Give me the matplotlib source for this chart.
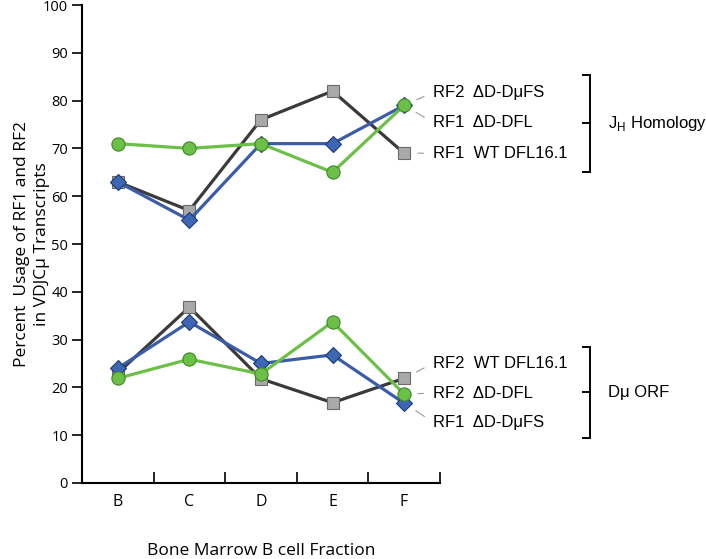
import matplotlib
matplotlib.use("Agg")
import matplotlib.pyplot as plt

plt.rcParams['font.family'] = ['Open Sans', 'DejaVu Sans']
plt.rcParams['mathtext.fontset'] = 'custom'
plt.rcParams['mathtext.rm'] = 'Liberation Sans'

fractions = ["B", "C", "D", "E", "F"]

# J_H homology group
rf1_wt_dfl = [63, 57, 76, 82, 69]
rf1_dd_dfl = [63, 55, 71, 71, 79]
rf2_dd_dmfs = [71, 70, 71, 65, 79]

# D mu ORF group
rf2_wt_dfl = [23, 36.8, 21.8, 16.8, 21.9]
rf1_dd_dmfs = [24, 33.7, 25, 26.8, 16.7]
rf2_dd_dfl = [21.9, 25.9, 22.8, 33.7, 18.6]

group_names = [r"J$_\mathrm{H}$ Homology", "D\u03bc ORF"]
group_spans = [(65.1, 85.4), (9.4, 28.5)]

gray_style = dict(color='#3a3a3a', marker='s', markersize=8.5, markerfacecolor='#a9a9a9',
                  markeredgecolor='#6a6a6a', markeredgewidth=0.8, lw=2.3)
blue_style = dict(color='#3b5ca8', marker='D', markersize=8, markerfacecolor='#3d67b3',
                  markeredgecolor='#1f3a78', markeredgewidth=0.8, lw=2.3)
green_style = dict(color='#6cbf47', marker='o', markersize=9.5, markerfacecolor='#6cbf47',
                   markeredgecolor='#3d8a2a', markeredgewidth=0.8, lw=2.3)

fig = plt.figure(figsize=(7.06, 5.59), dpi=100)
ax = fig.add_axes([0.1161, 0.136, 0.507, 0.855])

x = list(range(1, len(fractions) + 1))

ax.plot(x, rf1_wt_dfl, zorder=3, **gray_style)
ax.plot(x, rf1_dd_dfl, zorder=4, **blue_style)
ax.plot(x, rf2_dd_dmfs, zorder=5, **green_style)

ax.plot(x, rf2_wt_dfl, zorder=3, **gray_style)
ax.plot(x, rf1_dd_dmfs, zorder=4, **blue_style)
ax.plot(x, rf2_dd_dfl, zorder=5, **green_style)

ax.set_xlim(0.5, 5.5)
ax.set_ylim(0, 100)
ax.spines['top'].set_visible(False)
ax.spines['right'].set_visible(False)
for s in ['left', 'bottom']:
    ax.spines[s].set_linewidth(1.5)

ax.set_yticks(range(0, 101, 10))
ax.tick_params(axis='y', direction='out', length=7, width=1.2, labelsize=10.5, pad=3)
ax.set_xticks(x)
ax.set_xticklabels(fractions, fontsize=11.5)
ax.tick_params(axis='x', which='major', length=0, pad=8)
ax.set_xticks([1.5, 2.5, 3.5, 4.5, 5.5], minor=True)
ax.tick_params(axis='x', which='minor', direction='in', length=8, width=1.2)

ax.set_xlabel("Bone Marrow B cell Fraction", fontsize=12.5, labelpad=24)
ax.set_ylabel("Percent  Usage of RF1 and RF2\nin VDJC\u03bc Transcripts", fontsize=12.5,
              labelpad=-5, linespacing=1.3)

# series labels at the F end
labels = [
    (rf2_dd_dmfs[-1], "RF2  \u0394D-D\u03bcFS", 13),
    (rf1_dd_dfl[-1], "RF1  \u0394D-DFL", -17),
    (rf1_wt_dfl[-1], "RF1  WT DFL16.1", 0),
    (rf2_wt_dfl[-1], "RF2  WT DFL16.1", 15),
    (rf2_dd_dfl[-1], "RF2  \u0394D-DFL", 1),
    (rf1_dd_dmfs[-1], "RF1  \u0394D-D\u03bcFS", -19),
]
for val, txt, dy in labels:
    ax.annotate(txt, xy=(5, val), xytext=(29, dy), textcoords='offset pixels',
                ha='left', va='center', fontsize=12, family='Liberation Sans',
                annotation_clip=False,
                arrowprops=dict(arrowstyle='-', color='#9a9a9a', lw=0.8,
                                shrinkA=5, shrinkB=10, relpos=(0, 0.5)))

# group brackets
bx = 7.595
bt = 0.1
for name, (lo, hi) in zip(group_names, group_spans):
    mid = (lo + hi) / 2
    ax.plot([bx - bt, bx, bx, bx - bt], [hi, hi, lo, lo], color='black', lw=1.4,
            clip_on=False, solid_joinstyle='miter')
    ax.plot([bx - bt, bx], [mid, mid], color='black', lw=1.4, clip_on=False)
    ax.text(bx + 0.25, mid, name, ha='left', va='center', fontsize=12,
            family='Liberation Sans', clip_on=False)

fig.savefig("out.png", dpi=100)
